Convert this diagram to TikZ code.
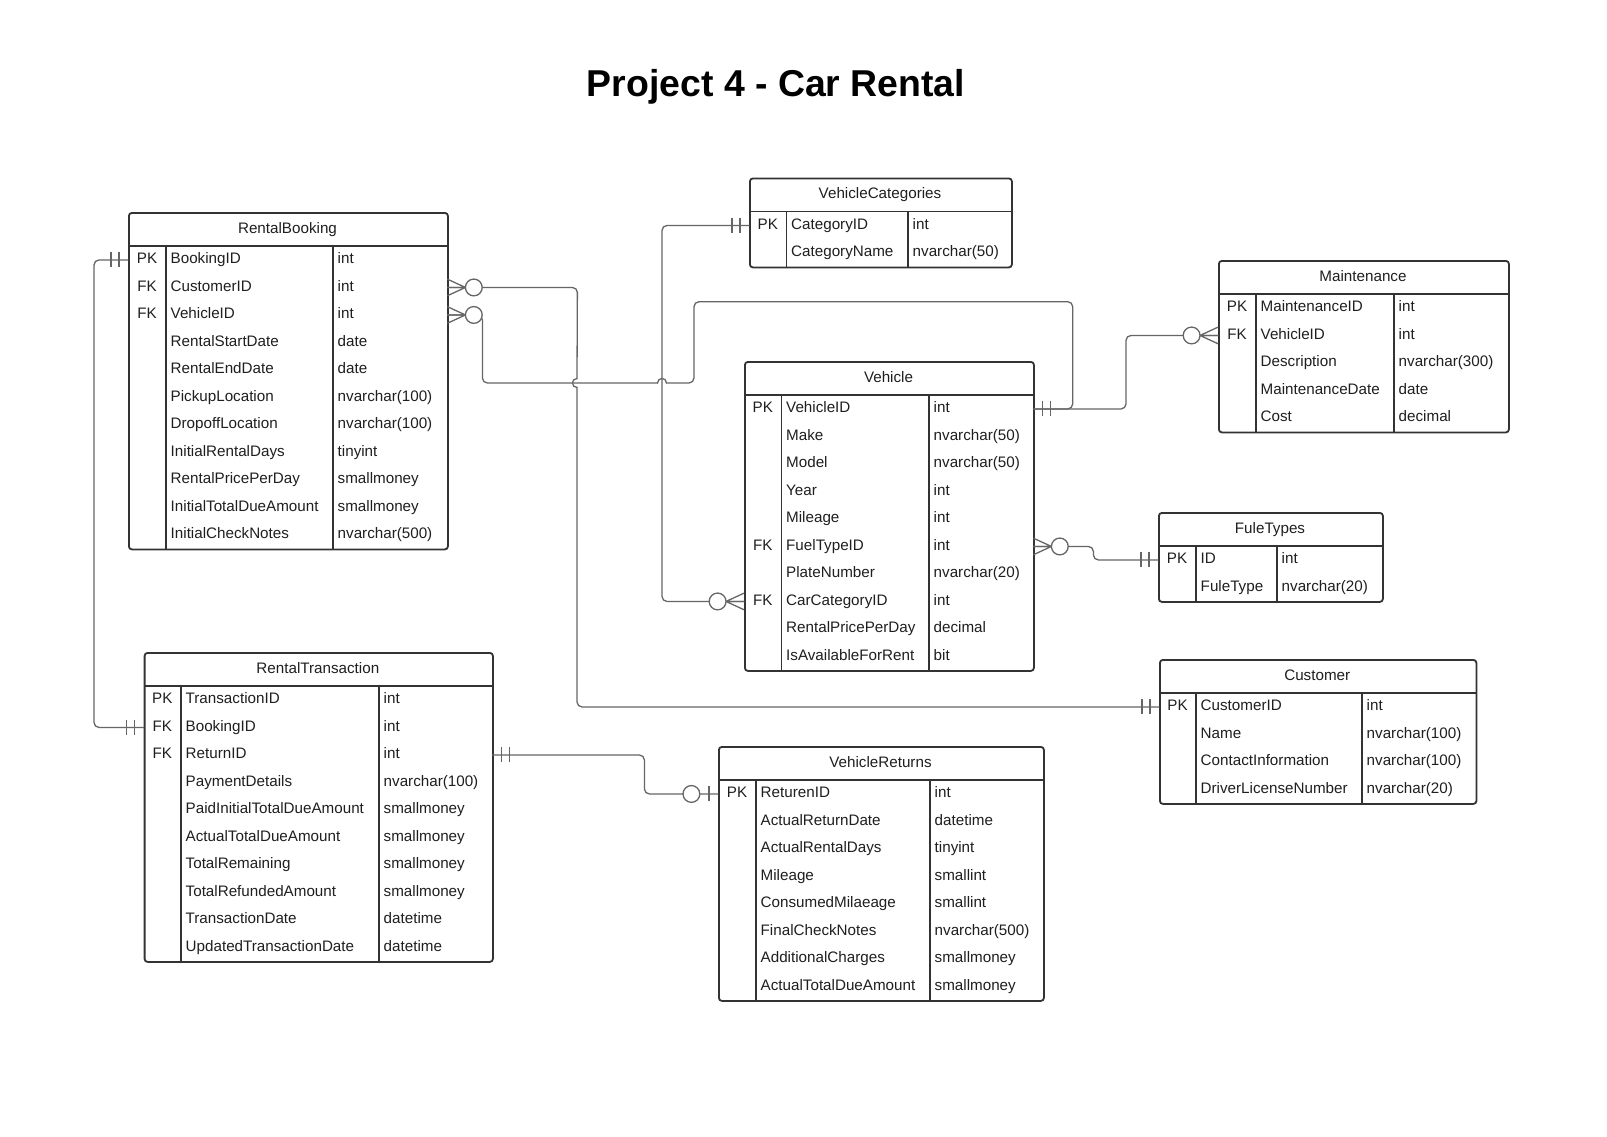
\documentclass[tikz,border=0pt]{standalone}
\usepackage{fontspec}
\setmainfont{Liberation Sans}
\usepackage{tikz}

\definecolor{tableline}{HTML}{333333}
\definecolor{linkline}{HTML}{666666}

\tikzset{
  tablebox/.style={draw=tableline, line width=1.8pt, rounded corners=3pt, inner sep=0pt},
  rowcell/.style={inner sep=0pt, minimum height=27.5pt},
  celltext/.style={font=\fontsize{15.2}{18}\selectfont, text=black!88, inner sep=0pt},
  link/.style={draw=linkline, line width=1.3pt, rounded corners=5pt, line cap=round},
  mandone/.pic={\draw[linkline, line width=1.3pt] (9,-7.5) -- (9,7.5) (17,-7.5) -- (17,7.5);},
  zeromany/.pic={\draw[linkline, line width=1.3pt] (0,-8.3) -- (18,0) -- (0,8.3) (0,0) -- (18,0);
                 \draw[linkline, line width=1.3pt, fill=white] (26.4,0) circle (8.4pt);},
  zeroone/.pic={\draw[linkline, line width=1.3pt] (9,-7.5) -- (9,7.5);
                \draw[linkline, line width=1.3pt, fill=white] (26.6,0) circle (8.4pt);}
}

% name, title, left, top, 1st divider, 2nd divider, right, rows, key/field/type list
\newcommand{\ertable}[9]{%
  \node[tablebox, anchor=north west, minimum width={(#7-#3)*1pt}, minimum height={(34+27.5*#8)*1pt}] (#1) at (#3,#4) {};
  \node[celltext, anchor=base] (#1-title) at ({(#3+#7)/2},{#4+21}) {#2};
  \draw[tableline, line width=1.8pt] (#3,{#4+34}) -- (#7,{#4+34})
    (#5,{#4+34}) -- (#5,{#4+34+27.5*#8}) (#6,{#4+34}) -- (#6,{#4+34+27.5*#8});
  \foreach \keyname/\fieldname/\typename [count=\i] in {#9} {
    \node[rowcell, anchor=north west, minimum width={(#7-#3)*1pt}] (#1-\i) at (#3,{#4+34+27.5*(\i-1)}) {};
    \node[celltext, anchor=base] (#1-\i-key) at ({(#3+#5)/2},{#4+34+27.5*(\i-0.5)+3.8}) {\keyname};
    \node[celltext, anchor=base west] (#1-\i-name) at ({#5+4.5},{#4+34+27.5*(\i-0.5)+3.8}) {\fieldname};
    \node[celltext, anchor=base west] (#1-\i-type) at ({#6+4.5},{#4+34+27.5*(\i-0.5)+3.8}) {\typename};
  }
}

\begin{document}
\begin{tikzpicture}[x=1pt, y=-1pt]
\fill[white] (0,0) rectangle (1607,1136);
\useasboundingbox (0,0) rectangle (1607,1136);

\node[font=\fontsize{37.4}{44}\selectfont\bfseries, anchor=base, inner sep=0pt] (heading) at (776,96) {Project 4 - Car Rental};

\ertable{rb}{RentalBooking}{128}{212}{166}{333}{447}{11}{PK/BookingID/int, FK/CustomerID/int, FK/VehicleID/int, /RentalStartDate/date, /RentalEndDate/date, /PickupLocation/nvarchar(100), /DropoffLocation/nvarchar(100), /InitialRentalDays/tinyint, /RentalPricePerDay/smallmoney, /InitialTotalDueAmount/smallmoney, /InitialCheckNotes/nvarchar(500)}
\ertable{vc}{VehicleCategories}{749}{177.5}{786.5}{908}{1011}{2}{PK/CategoryID/int, /CategoryName/nvarchar(50)}
\ertable{mt}{Maintenance}{1218}{260}{1256}{1394}{1508}{5}{PK/MaintenanceID/int, FK/VehicleID/int, /Description/nvarchar(300), /MaintenanceDate/date, /Cost/decimal}
\ertable{vh}{Vehicle}{744}{361}{781.5}{929}{1033}{10}{PK/VehicleID/int, /Make/nvarchar(50), /Model/nvarchar(50), /Year/int, /Mileage/int, FK/FuelTypeID/int, /PlateNumber/nvarchar(20), FK/CarCategoryID/int, /RentalPricePerDay/decimal, /IsAvailableForRent/bit}
\ertable{ft}{FuleTypes}{1158}{512}{1196}{1277}{1382}{2}{PK/ID/int, /FuleType/nvarchar(20)}
\ertable{cu}{Customer}{1159}{659}{1196}{1362}{1475.5}{4}{PK/CustomerID/int, /Name/nvarchar(100), /ContactInformation/nvarchar(100), /DriverLicenseNumber/nvarchar(20)}
\ertable{rt}{RentalTransaction}{143.7}{652}{181}{379}{492}{10}{PK/TransactionID/int, FK/BookingID/int, FK/ReturnID/int, /PaymentDetails/nvarchar(100), /PaidInitialTotalDueAmount/smallmoney, /ActualTotalDueAmount/smallmoney, /TotalRemaining/smallmoney, /TotalRefundedAmount/smallmoney, /TransactionDate/datetime, /UpdatedTransactionDate/datetime}
\ertable{vr}{VehicleReturns}{718}{746}{756}{930}{1043}{8}{PK/ReturenID/int, /ActualReturnDate/datetime, /ActualRentalDays/tinyint, /Mileage/smallint, /ConsumedMilaeage/smallint, /FinalCheckNotes/nvarchar(500), /AdditionalCharges/smallmoney, /ActualTotalDueAmount/smallmoney}

% line hops and bends
\coordinate (hopa) at (577,378.5);
\coordinate (hopb) at (577,387.5);
\coordinate (hopc) at (657.5,383);
\coordinate (hopd) at (666.5,383);
\coordinate (bend) at (694,301.7);
\coordinate (bendtop) at (1072.7,301.7);

% relationships
\draw[link] (rb-1.west) -- ++(-34,0) |- (rt-2.west);
\pic[rotate=180] at (rb-1.west) {mandone};
\pic[rotate=180] at (rt-2.west) {mandone};

\draw[link] (rb-2.east) -- ++(130,0) -- (hopa);
\draw[link] (hopa) .. controls (571,378.5) and (571,387.5) .. (hopb);
\draw[link] (hopb) |- (cu-1.west);
\pic at (rb-2.east) {zeromany};
\pic[rotate=180] at (cu-1.west) {mandone};

\draw[link] (rb-3.east) -- ++(35,0) |- (hopc);
\draw[link] (hopc) .. controls (657.5,377) and (666.5,377) .. (hopd);
\draw[link] (hopd) -| (bend) -- (bendtop) |- (vh-1.east);
\pic at (rb-3.east) {zeromany};
\pic at (vh-1.east) {mandone};

\draw[link] (mt-2.west) -- ++(-92,0) |- (vh-1.east);
\pic[rotate=180] at (mt-2.west) {zeromany};

\draw[link] (vc-1.west) -- ++(-87,0) |- (vh-8.west);
\pic[rotate=180] at (vc-1.west) {mandone};
\pic[rotate=180] at (vh-8.west) {zeromany};

\draw[link] (vh-6.east) -- ++(60,0) |- (ft-1.west);
\pic at (vh-6.east) {zeromany};
\pic[rotate=180] at (ft-1.west) {mandone};

\draw[link] (rt-3.east) -- ++(152,0) |- (vr-1.west);
\pic at (rt-3.east) {mandone};
\pic[rotate=180] at (vr-1.west) {zeroone};
\end{tikzpicture}
\end{document}
